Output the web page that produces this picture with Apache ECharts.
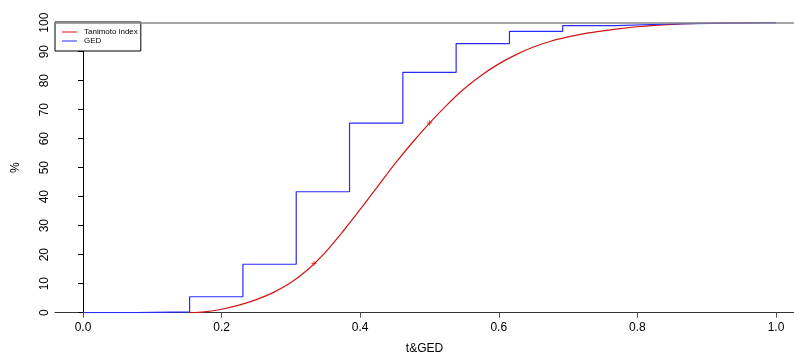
<!DOCTYPE html>
<html>
<head>
<meta charset="utf-8">
<script src="https://cdn.jsdelivr.net/npm/echarts@6/dist/echarts.min.js"></script>
<style>html,body{margin:0;padding:0;background:#fff;}#c{width:794px;height:360px;}</style>
</head>
<body>
<div id="c"></div>
<script>
// Tanimoto index cumulative curve (x, %)
var tanimotoX = [0.154, 0.175, 0.2, 0.225, 0.25, 0.275, 0.3, 0.325, 0.35, 0.375, 0.4, 0.425, 0.45, 0.475, 0.5, 0.525, 0.55, 0.575, 0.6, 0.625, 0.65, 0.675, 0.7, 0.725, 0.75, 0.775, 0.8, 0.825, 0.85, 0.875, 0.9, 0.925, 0.95, 1.0];
var tanimotoY = [0, 0.3, 1.2, 2.6, 4.5, 7.0, 10.4, 15.0, 20.9, 28.0, 35.6, 43.5, 51.3, 58.6, 65.4, 71.6, 77.2, 81.9, 85.8, 89.0, 91.6, 93.6, 95.1, 96.3, 97.2, 97.95, 98.6, 99.1, 99.45, 99.7, 99.85, 99.93, 99.97, 100];
// marked points on the Tanimoto curve
var markX = [1 / 3, 0.5];
var markY = [17.0, 65.4];
// GED step function (value holds from x until the next x)
var gedX = [0, 1 / 13, 2 / 13, 3 / 13, 4 / 13, 5 / 13, 6 / 13, 7 / 13, 8 / 13, 9 / 13, 10 / 13, 11 / 13, 1];
var gedY = [0, 0.3, 5.5, 16.7, 41.7, 65.4, 82.9, 92.8, 97.0, 99.0, 99.55, 100, 100];
var xTicks = [0, 0.2, 0.4, 0.6, 0.8, 1.0];

function zip(a, b) { return a.map(function (v, i) { return [v, b[i]]; }); }

var font = 'Liberation Sans, Arial, sans-serif';
var chart = echarts.init(document.getElementById('c'), null, { renderer: 'canvas' });
chart.setOption({
  animation: false,
  backgroundColor: '#fff',
  grid: { left: 55, right: 0, top: 22.7, bottom: 47.3 },
  legend: {
    data: ['Tanimoto index', 'GED'],
    orient: 'vertical', left: 55, top: 22,
    icon: 'rect', itemWidth: 15, itemHeight: 1, itemGap: 1,
    padding: [6, 3, 6, 7],
    borderColor: '#000', borderWidth: 1, backgroundColor: '#fff',
    textStyle: { fontSize: 8, color: '#000', fontFamily: font, lineHeight: 8, padding: [0, 0, 0, 2] }
  },
  xAxis: {
    type: 'value', min: -0.0404, max: 1.026,
    name: 't&GED', nameLocation: 'middle', nameGap: 30,
    nameTextStyle: { fontSize: 12, color: '#000', fontFamily: font },
    splitLine: { show: false },
    axisLine: { show: true, lineStyle: { color: '#333', width: 1.2 } },
    axisTick: { show: true, length: 5, customValues: xTicks, lineStyle: { color: '#555' } },
    axisLabel: { customValues: xTicks, margin: 9, fontSize: 12, color: '#000', fontFamily: font,
      formatter: function (v) { return v.toFixed(1); } }
  },
  yAxis: {
    type: 'value', min: 0, max: 100, interval: 10,
    name: '%', nameLocation: 'middle', nameGap: 33, nameRotate: 90,
    nameTextStyle: { fontSize: 12, color: '#000', fontFamily: font },
    splitLine: { show: false },
    axisLine: { show: true, lineStyle: { color: '#000', width: 1 } },
    axisTick: { show: true, length: 5, lineStyle: { color: '#000' } },
    axisLabel: { rotate: 90, margin: 10, fontSize: 12, color: '#000', fontFamily: font, verticalAlign: 'middle', align: 'center' }
  },
  series: [
    {
      name: 'Tanimoto index', type: 'line', data: zip(tanimotoX, tanimotoY),
      smooth: 0.3, symbol: 'none',
      lineStyle: { color: '#d01515', width: 1.2 }, itemStyle: { color: '#d01515' },
      z: 3,
      markLine: {
        silent: true, symbol: 'none', label: { show: false },
        lineStyle: { color: '#888', width: 1.5, type: 'solid' },
        data: [{ yAxis: 100 }]
      }
    },
    {
      name: 'GED', type: 'line', data: zip(gedX, gedY), step: 'end',
      symbol: 'none', lineStyle: { color: '#2a2aff', width: 1.2 }, itemStyle: { color: '#2a2aff' },
      z: 4
    },
    {
      name: 'marks', type: 'scatter', data: zip(markX, markY),
      symbol: 'path://M4,0H6V4H10V6H6V10H4V6H0V4H4Z', symbolSize: 5,
      itemStyle: { color: '#d01515' }, z: 5
    }
  ]
});
</script>
</body>
</html>
